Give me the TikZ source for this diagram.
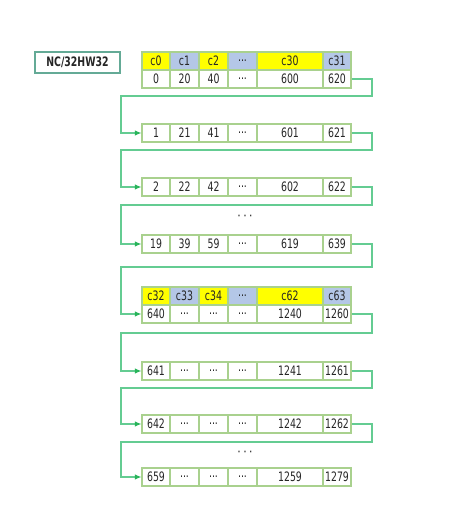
\documentclass[tikz,border=0pt]{standalone}
\usepackage{fontspec}
\setmainfont[FakeStretch=0.72]{DejaVu Sans}
\usetikzlibrary{arrows.meta}
\definecolor{cellborder}{RGB}{169,209,142}
\definecolor{hyellow}{RGB}{255,255,0}
\definecolor{hblue}{RGB}{180,199,231}
\definecolor{conngreen}{RGB}{100,204,146}
\definecolor{tipgreen}{RGB}{40,180,90}
\definecolor{labelborder}{RGB}{100,170,150}
\tikzset{
  cell/.style={draw=cellborder, line width=1.1pt, inner sep=0pt, minimum height=18pt, font=\fontsize{13}{14}\selectfont, text=black!85},
  hy/.style={cell, fill=hyellow},
  hb/.style={cell, fill=hblue},
  conn/.style={draw=conngreen, line width=1.1pt, -{Latex[length=6.5pt,width=5.5pt,color=tipgreen]}},
  labelbox/.style={draw=labelborder, line width=1.2pt, minimum width=85pt, minimum height=21pt, inner sep=0pt, font=\bfseries\fontsize{13}{14}\selectfont, text=black!85},
  dotsnode/.style={font=\fontsize{13}{14}\selectfont, inner sep=0pt}
}
% data row: name, ytop, six values
\newcommand\drow[8]{%
  \node[cell, minimum width=28pt] (#1-1) at (156,#2+9) {#3};
  \node[cell, minimum width=29pt] (#1-2) at (184.5,#2+9) {#4};
  \node[cell, minimum width=29pt] (#1-3) at (213.5,#2+9) {#5};
  \node[cell, minimum width=29pt] (#1-4) at (242.5,#2+9) {#6};
  \node[cell, minimum width=66pt] (#1-5) at (290,#2+9) {#7};
  \node[cell, minimum width=28pt] (#1-6) at (337,#2+9) {#8};
}
\newcommand\hrow[8]{%
  \node[hy, minimum width=28pt] (#1-1) at (156,#2+9) {#3};
  \node[hb, minimum width=29pt] (#1-2) at (184.5,#2+9) {#4};
  \node[hy, minimum width=29pt] (#1-3) at (213.5,#2+9) {#5};
  \node[hb, minimum width=29pt] (#1-4) at (242.5,#2+9) {#6};
  \node[hy, minimum width=66pt] (#1-5) at (290,#2+9) {#7};
  \node[hb, minimum width=28pt] (#1-6) at (337,#2+9) {#8};
}
\newcommand\rowlink[3]{%
  \coordinate (d-#1) at (0,#3);
  \draw[conn] (#1-6.east) -- (#1-6.east -| xr) -- (xr |- d-#1) -- (xl |- d-#1) -- (xl |- #2-1.west) -- (#2-1.west);
}
\begin{document}
\begin{tikzpicture}[x=1pt,y=-1pt]
\useasboundingbox (0,0) rectangle (465,524);
\coordinate (xr) at (372,0);
\coordinate (xl) at (121,0);
\node[labelbox] (lbl) at (77.5,62.5) {NC/32HW32};
\hrow{h0}{52}{c0}{c1}{c2}{...}{c30}{c31}
\drow{r0}{70}{0}{20}{40}{...}{600}{620}
\drow{r1}{124}{1}{21}{41}{...}{601}{621}
\drow{r2}{178}{2}{22}{42}{...}{602}{622}
\node[dotsnode] (dots1) at (245,218) {· · ·};
\drow{r19}{235}{19}{39}{59}{...}{619}{639}
\hrow{h1}{287}{c32}{c33}{c34}{...}{c62}{c63}
\drow{r640}{305}{640}{...}{...}{...}{1240}{1260}
\drow{r641}{362}{641}{...}{...}{...}{1241}{1261}
\drow{r642}{415}{642}{...}{...}{...}{1242}{1262}
\node[dotsnode] (dots2) at (245,454) {· · ·};
\drow{r659}{468}{659}{...}{...}{...}{1259}{1279}
\rowlink{r0}{r1}{96}
\rowlink{r1}{r2}{150}
\rowlink{r2}{r19}{205}
\rowlink{r19}{r640}{267}
\rowlink{r640}{r641}{333}
\rowlink{r641}{r642}{388}
\rowlink{r642}{r659}{442}
\end{tikzpicture}
\end{document}
